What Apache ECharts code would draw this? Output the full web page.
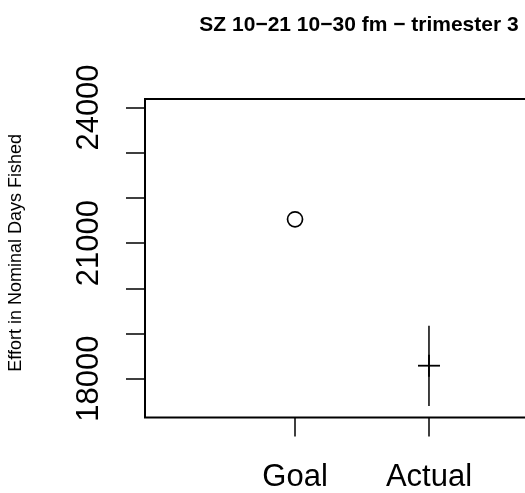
<!DOCTYPE html>
<html><head><meta charset="utf-8">
<script src="https://cdn.jsdelivr.net/npm/echarts@6/dist/echarts.min.js"></script>
<style>html,body{margin:0;padding:0;background:#fff}#c{width:525px;height:493px}</style>
</head><body><div id="c"></div>
<script>
const categories = ['Goal', 'Actual'];
const categoryX = [1, 2];
const goalValue = 21527;
const actualValue = 18288;
const actualLow = 17396;
const actualHigh = 19173;
const yTickValues = [18000, 19000, 20000, 21000, 22000, 23000, 24000];
const yLabelValues = [18000, 21000, 24000];
const titleText = 'SZ 10−21 10−30 fm − trimester 3';
const yAxisTitle = 'Effort in Nominal Days Fished';

const FONT = '"Liberation Sans", Arial, Helvetica, sans-serif';
const chart = echarts.init(document.getElementById('c'), null, {renderer: 'canvas'});
chart.setOption({
  animation: false,
  backgroundColor: '#fff',
  title: {
    text: titleText,
    left: 354, top: 10, textAlign: 'center',
    textStyle: {fontFamily: FONT, fontSize: 21, fontWeight: 'bold', color: '#000'}
  },
  grid: {
    left: 145, top: 99, width: 434, height: 318.5,
    show: true, borderColor: '#000', borderWidth: 2, backgroundColor: 'transparent',
    containLabel: false, outerBoundsMode: 'none'
  },
  xAxis: {
    type: 'value', min: -0.12, max: 3.12,
    splitLine: {show: false},
    axisLine: {show: false, onZero: false},
    axisTick: {show: true, customValues: categoryX, length: 19, lineStyle: {color: '#000', width: 1.5}},
    axisLabel: {
      customValues: categoryX,
      formatter: v => categories[categoryX.indexOf(v)] || '',
      fontFamily: FONT, fontSize: 31, color: '#000', margin: 44
    }
  },
  yAxis: {
    type: 'value', min: 17142, max: 24188,
    splitLine: {show: false},
    axisLine: {show: false, onZero: false},
    axisTick: {show: true, customValues: yTickValues, length: 19, lineStyle: {color: '#000', width: 1.5}},
    axisLabel: {
      customValues: yLabelValues, rotate: 90,
      formatter: v => String(v),
      fontFamily: FONT, fontSize: 31, color: '#000', margin: 40
    },
    name: yAxisTitle, nameLocation: 'middle', nameGap: 120, nameRotate: 90,
    nameTextStyle: {fontFamily: FONT, fontSize: 18, color: '#000', padding: [0, 0, 0, 11]}
  },
  series: [
    {
      type: 'scatter',
      data: [[categoryX[0], goalValue]],
      symbol: 'circle', symbolSize: 15,
      itemStyle: {color: '#fff', borderColor: '#000', borderWidth: 1.7, opacity: 1},
      silent: true
    },
    {
      type: 'custom',
      data: [[categoryX[1], actualValue, actualLow, actualHigh]],
      renderItem: function (params, api) {
        const x = api.value(0);
        const c = api.coord([x, api.value(1)]);
        const lo = api.coord([x, api.value(2)]);
        const hi = api.coord([x, api.value(3)]);
        const h = 11;
        return {type: 'group', children: [
          {type: 'line', shape: {x1: lo[0], y1: lo[1], x2: hi[0], y2: hi[1]}, style: {stroke: '#000', lineWidth: 1.5}},
          {type: 'line', shape: {x1: c[0] - h, y1: c[1], x2: c[0] + h, y2: c[1]}, style: {stroke: '#000', lineWidth: 1.8}},
          {type: 'line', shape: {x1: c[0], y1: c[1] - h, x2: c[0], y2: c[1] + h}, style: {stroke: '#000', lineWidth: 1.8}}
        ]};
      },
      encode: {x: 0, y: 1},
      silent: true
    }
  ]
});
</script></body></html>
